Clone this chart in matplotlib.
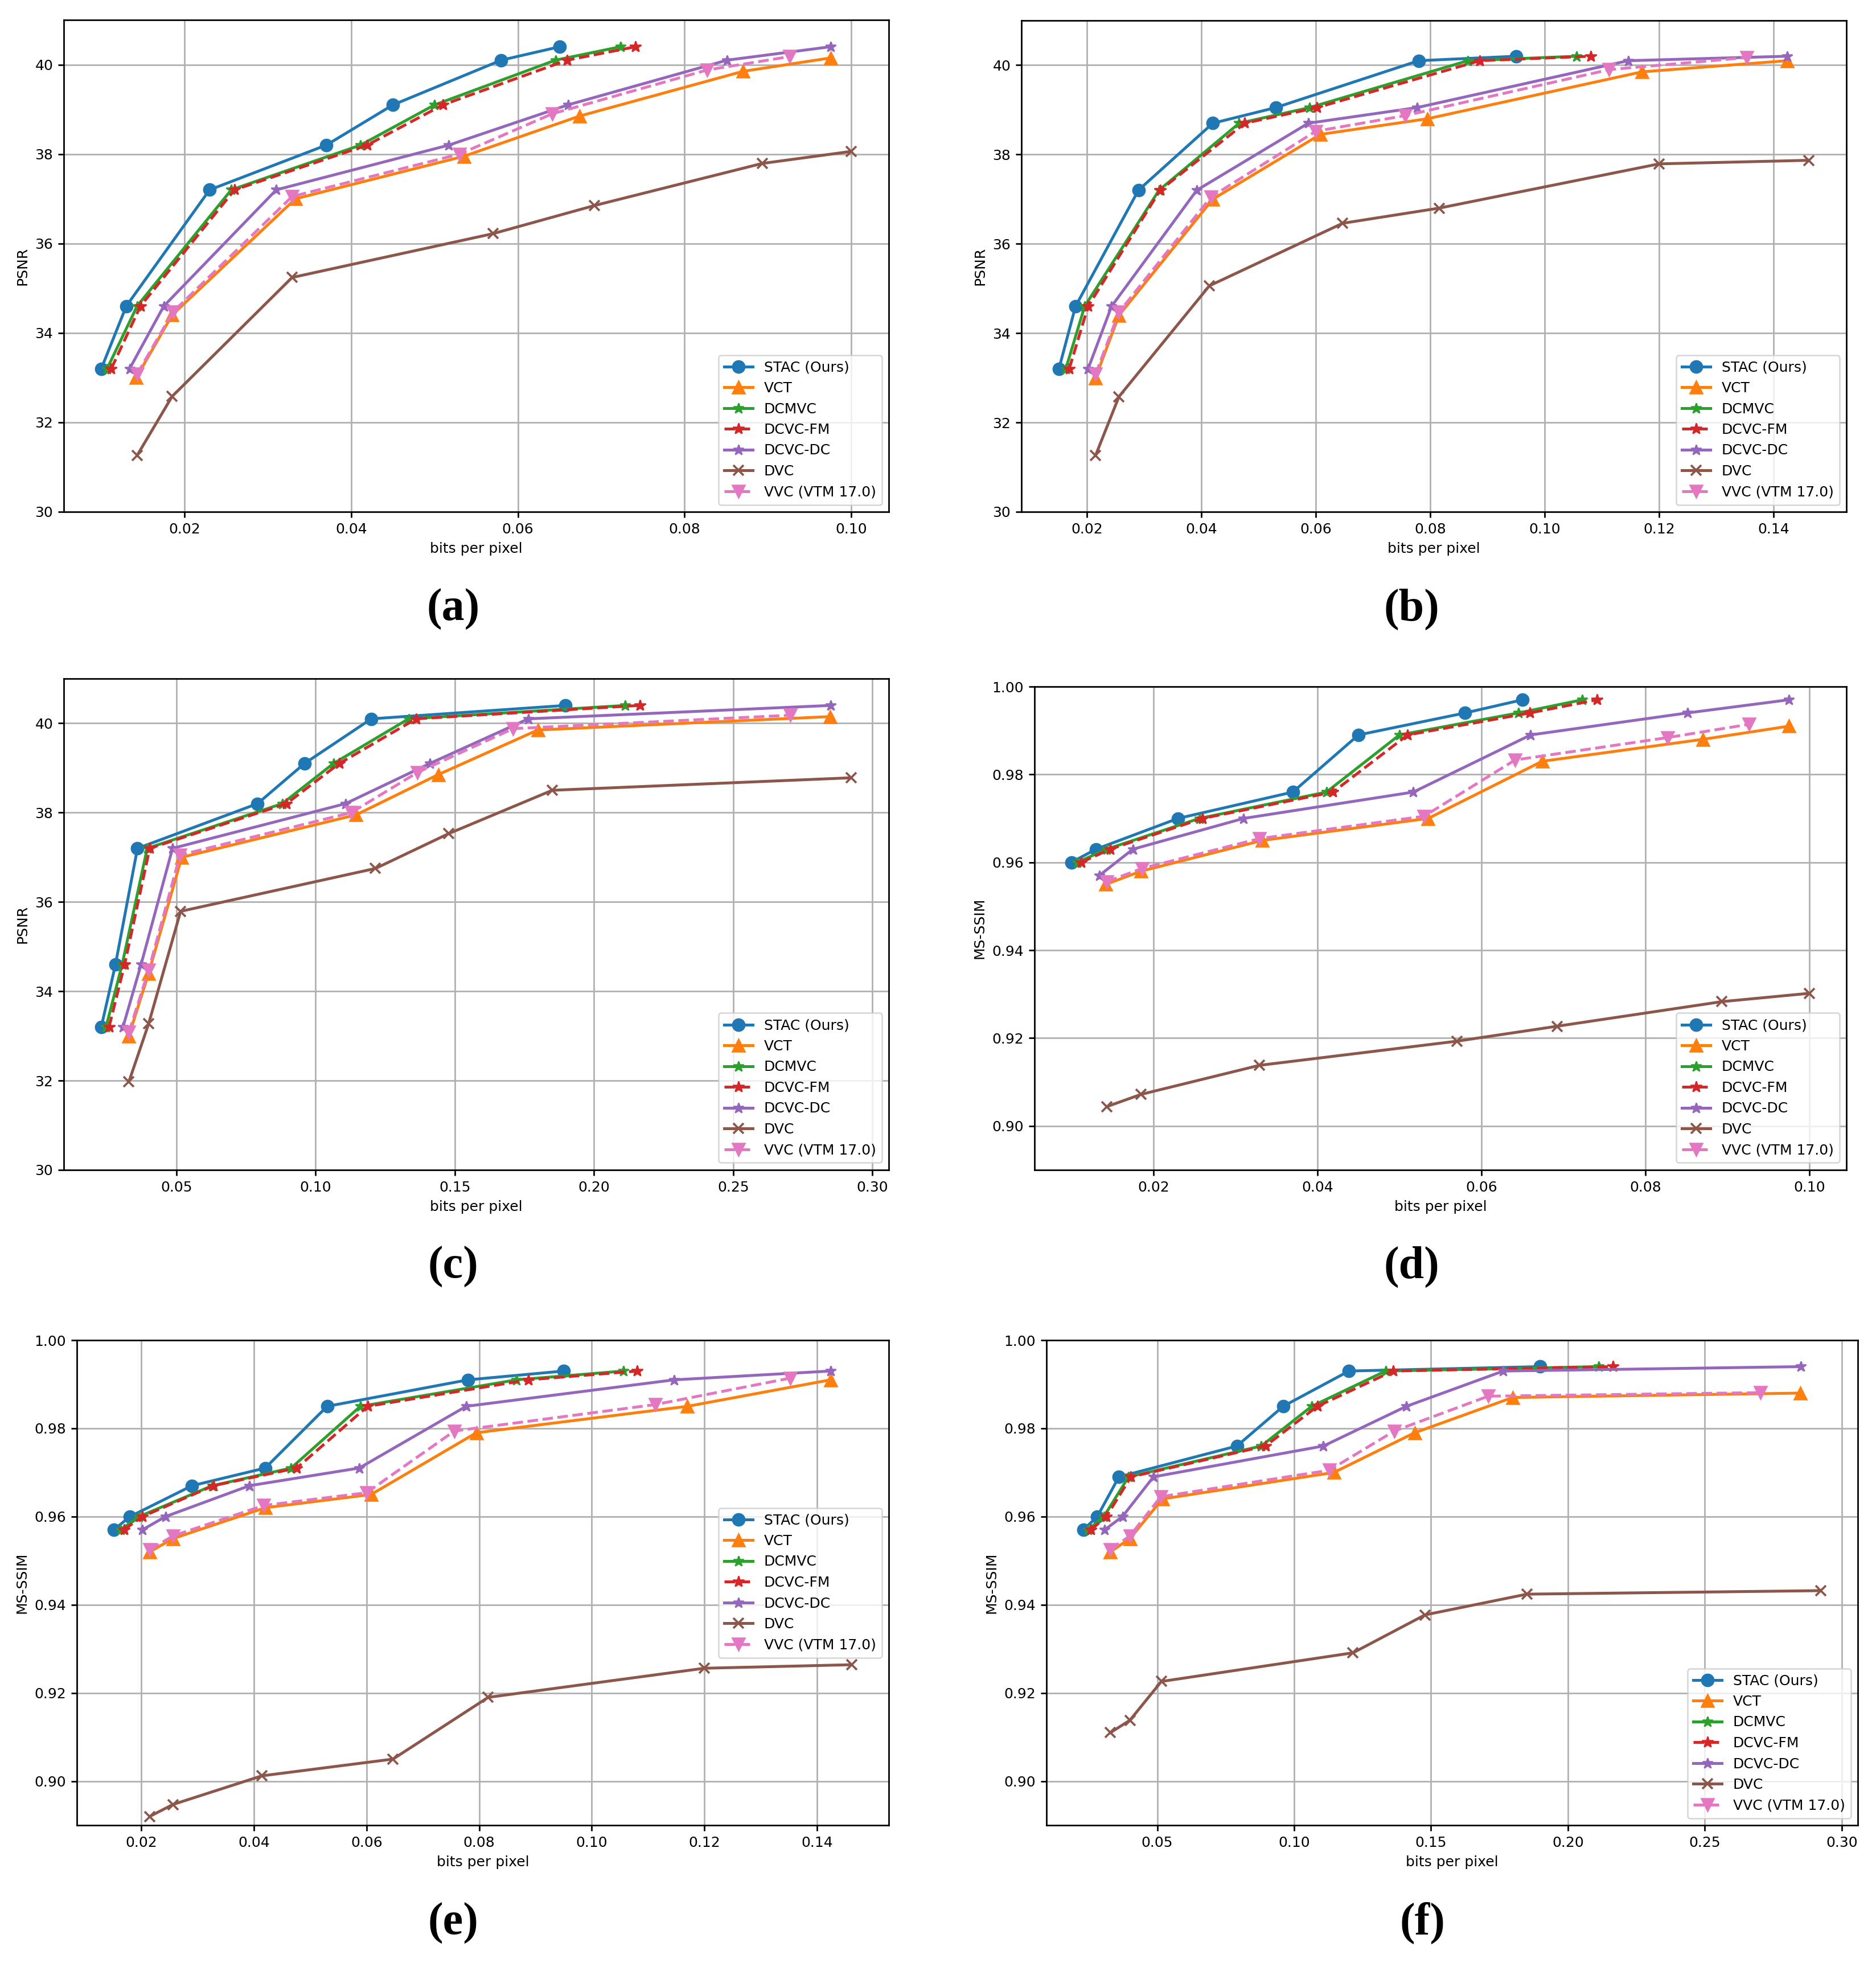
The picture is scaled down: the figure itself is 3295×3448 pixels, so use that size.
import matplotlib
matplotlib.use('Agg')
import matplotlib.pyplot as plt

# ---- data ------------------------------------------------------------------
methods = ["STAC (Ours)", "VCT", "DCMVC", "DCVC-FM", "DCVC-DC", "DVC", "VVC (VTM 17.0)"]

# bits per pixel, panels (a)/(d)
bpp_ad = {
    "STAC (Ours)":    [0.0100, 0.0130, 0.0230, 0.0370, 0.0450, 0.0580, 0.0650],
    "VCT":            [0.0142, 0.0185, 0.0333, 0.0535, 0.0674, 0.0870, 0.0975],
    "DCMVC":          [0.0107, 0.0143, 0.0256, 0.0411, 0.0500, 0.0645, 0.0723],
    "DCVC-FM":        [0.0112, 0.0147, 0.0260, 0.0419, 0.0510, 0.0659, 0.0741],
    "DCVC-DC":        [0.0134, 0.0175, 0.0310, 0.0517, 0.0660, 0.0851, 0.0975],
    "DVC":            [0.0143, 0.0185, 0.0329, 0.0570, 0.0692, 0.0893, 0.1000],
    "VVC (VTM 17.0)": [0.0143, 0.0186, 0.0329, 0.0530, 0.0641, 0.0827, 0.0926],
}
# bits per pixel, panels (b)/(e)
bpp_be = {
    "STAC (Ours)":    [0.0151, 0.0180, 0.0290, 0.0420, 0.0530, 0.0780, 0.0950],
    "VCT":            [0.0215, 0.0256, 0.0420, 0.0608, 0.0795, 0.1170, 0.1424],
    "DCMVC":          [0.0163, 0.0196, 0.0326, 0.0466, 0.0589, 0.0866, 0.1056],
    "DCVC-FM":        [0.0169, 0.0202, 0.0328, 0.0476, 0.0602, 0.0887, 0.1081],
    "DCVC-DC":        [0.0202, 0.0243, 0.0392, 0.0587, 0.0777, 0.1146, 0.1424],
    "DVC":            [0.0215, 0.0256, 0.0414, 0.0647, 0.0816, 0.1200, 0.1462],
    "VVC (VTM 17.0)": [0.0215, 0.0256, 0.0417, 0.0600, 0.0756, 0.1113, 0.1353],
}
# bits per pixel, panels (c)/(f)
bpp_cf = {
    "STAC (Ours)":    [0.0230, 0.0281, 0.0360, 0.0791, 0.0960, 0.1200, 0.1898],
    "VCT":            [0.0329, 0.0400, 0.0519, 0.1145, 0.1440, 0.1798, 0.2849],
    "DCMVC":          [0.0247, 0.0305, 0.0395, 0.0880, 0.1064, 0.1334, 0.2112],
    "DCVC-FM":        [0.0258, 0.0314, 0.0404, 0.0895, 0.1085, 0.1361, 0.2164],
    "DCVC-DC":        [0.0308, 0.0373, 0.0486, 0.1107, 0.1410, 0.1764, 0.2851],
    "DVC":            [0.0329, 0.0400, 0.0515, 0.1215, 0.1478, 0.1850, 0.2924],
    "VVC (VTM 17.0)": [0.0329, 0.0400, 0.0513, 0.1128, 0.1366, 0.1709, 0.2704],
}

psnr_a = {
    "STAC (Ours)":    [33.2, 34.6, 37.2, 38.2, 39.1, 40.1, 40.4],
    "VCT":            [33.0, 34.4, 37.0, 37.95, 38.85, 39.85, 40.15],
    "DCMVC":          [33.2, 34.6, 37.2, 38.2, 39.1, 40.1, 40.4],
    "DCVC-FM":        [33.2, 34.6, 37.2, 38.2, 39.1, 40.1, 40.4],
    "DCVC-DC":        [33.2, 34.6, 37.2, 38.2, 39.1, 40.1, 40.4],
    "DVC":            [31.26, 32.58, 35.24, 36.22, 36.85, 37.79, 38.06],
    "VVC (VTM 17.0)": [33.08, 34.47, 37.05, 38.0, 38.9, 39.88, 40.18],
}
psnr_b = {
    "STAC (Ours)":    [33.2, 34.6, 37.2, 38.7, 39.05, 40.1, 40.2],
    "VCT":            [33.0, 34.4, 37.0, 38.45, 38.8, 39.85, 40.1],
    "DCMVC":          [33.2, 34.6, 37.2, 38.7, 39.05, 40.1, 40.2],
    "DCVC-FM":        [33.2, 34.6, 37.2, 38.7, 39.05, 40.1, 40.2],
    "DCVC-DC":        [33.2, 34.6, 37.2, 38.7, 39.05, 40.1, 40.2],
    "DVC":            [31.26, 32.58, 35.06, 36.46, 36.8, 37.79, 37.87],
    "VVC (VTM 17.0)": [33.08, 34.47, 37.05, 38.52, 38.87, 39.9, 40.17],
}
psnr_c = {
    "STAC (Ours)":    [33.2, 34.6, 37.2, 38.2, 39.1, 40.1, 40.4],
    "VCT":            [33.0, 34.4, 37.0, 37.95, 38.85, 39.85, 40.15],
    "DCMVC":          [33.2, 34.6, 37.2, 38.2, 39.1, 40.1, 40.4],
    "DCVC-FM":        [33.2, 34.6, 37.2, 38.2, 39.1, 40.1, 40.4],
    "DCVC-DC":        [33.2, 34.6, 37.2, 38.2, 39.1, 40.1, 40.4],
    "DVC":            [31.97, 33.27, 35.79, 36.75, 37.53, 38.5, 38.78],
    "VVC (VTM 17.0)": [33.08, 34.47, 37.05, 38.0, 38.9, 39.88, 40.18],
}
msssim_d = {
    "STAC (Ours)":    [0.960, 0.963, 0.970, 0.976, 0.989, 0.994, 0.997],
    "VCT":            [0.955, 0.958, 0.965, 0.970, 0.983, 0.988, 0.991],
    "DCMVC":          [0.960, 0.963, 0.970, 0.976, 0.989, 0.994, 0.997],
    "DCVC-FM":        [0.960, 0.963, 0.970, 0.976, 0.989, 0.994, 0.997],
    "DCVC-DC":        [0.957, 0.963, 0.970, 0.976, 0.989, 0.994, 0.997],
    "DVC":            [0.9044, 0.9072, 0.9138, 0.9193, 0.9227, 0.9283, 0.9302],
    "VVC (VTM 17.0)": [0.9556, 0.9586, 0.9654, 0.9705, 0.9833, 0.9884, 0.9914],
}
msssim_e = {
    "STAC (Ours)":    [0.957, 0.960, 0.967, 0.971, 0.985, 0.991, 0.993],
    "VCT":            [0.952, 0.955, 0.962, 0.965, 0.979, 0.985, 0.991],
    "DCMVC":          [0.957, 0.960, 0.967, 0.971, 0.985, 0.991, 0.993],
    "DCVC-FM":        [0.957, 0.960, 0.967, 0.971, 0.985, 0.991, 0.993],
    "DCVC-DC":        [0.957, 0.960, 0.967, 0.971, 0.985, 0.991, 0.993],
    "DVC":            [0.892, 0.8947, 0.9012, 0.905, 0.919, 0.9256, 0.9264],
    "VVC (VTM 17.0)": [0.9525, 0.9556, 0.9625, 0.9654, 0.9794, 0.9854, 0.9914],
}
msssim_f = {
    "STAC (Ours)":    [0.957, 0.960, 0.969, 0.976, 0.985, 0.993, 0.994],
    "VCT":            [0.952, 0.955, 0.964, 0.970, 0.979, 0.987, 0.988],
    "DCMVC":          [0.957, 0.960, 0.969, 0.976, 0.985, 0.993, 0.994],
    "DCVC-FM":        [0.957, 0.960, 0.969, 0.976, 0.985, 0.993, 0.994],
    "DCVC-DC":        [0.957, 0.960, 0.969, 0.976, 0.985, 0.993, 0.994],
    "DVC":            [0.911, 0.9138, 0.9226, 0.9291, 0.9377, 0.9424, 0.9432],
    "VVC (VTM 17.0)": [0.9525, 0.9556, 0.9645, 0.9705, 0.9794, 0.9873, 0.9881],
}

# ---- styling -----------------------------------------------------------------
styles = {
    "STAC (Ours)":    dict(color="C0", marker="o", ls="-", ms=8.5),
    "VCT":            dict(color="C1", marker="^", ls="-", ms=8.5),
    "DCMVC":          dict(color="C2", marker="*", ls="-", ms=7.5),
    "DCVC-FM":        dict(color="C3", marker="*", ls="--", ms=8),
    "DCVC-DC":        dict(color="C4", marker="*", ls="-", ms=7.5),
    "DVC":            dict(color="C5", marker="x", ls="-", ms=7.5, mew=1.5),
    "VVC (VTM 17.0)": dict(color="C6", marker="v", ls="--", ms=8.5),
}

W, H, DPI = 3295, 3448, 180
plt.rcParams['axes.linewidth'] = 1.1
plt.rcParams['xtick.major.width'] = 1.1
plt.rcParams['ytick.major.width'] = 1.1
plt.rcParams['xtick.major.size'] = 4
plt.rcParams['ytick.major.size'] = 4

fig = plt.figure(figsize=(W / DPI, H / DPI), dpi=DPI)

# panel boxes in pixels: left, right, top, bottom
panels = [
    ("(a)", bpp_ad, psnr_a,   "PSNR",    (30, 41),    "lower right", (112, 1561, 35, 899),    (796, 1070)),
    ("(b)", bpp_be, psnr_b,   "PSNR",    (30, 41),    "lower right", (1794, 3243, 36, 899),   (2479, 1070)),
    ("(c)", bpp_cf, psnr_c,   "PSNR",    (30, 41),    "lower right", (112, 1561, 1192, 2055), (796, 2225)),
    ("(d)", bpp_ad, msssim_d, "MS-SSIM", (0.89, 1.0), "lower right", (1817, 3243, 1206, 2055), (2479, 2225)),
    ("(e)", bpp_be, msssim_e, "MS-SSIM", (0.89, 1.0), "center right", (135, 1561, 2354, 3206), (796, 3378)),
    ("(f)", bpp_cf, msssim_f, "MS-SSIM", (0.89, 1.0), "lower right", (1838, 3263, 2354, 3206), (2498, 3378)),
]

for tag, bpp, metric, ylabel, ylim, loc, box, labpos in panels:
    l, r, t, b = box
    ax = fig.add_axes([l / W, 1 - b / H, (r - l) / W, (b - t) / H])
    for m in methods:
        st = styles[m]
        ax.plot(bpp[m], metric[m], label=m, color=st["color"], marker=st["marker"],
                linestyle=st["ls"], markersize=st["ms"], markeredgewidth=st.get("mew", 1.0),
                linewidth=2.0)
    ax.set_ylim(*ylim)
    ax.set_xlabel("bits per pixel")
    ax.set_ylabel(ylabel)
    ax.grid(True, color="#b0b0b0", linewidth=1.1)
    ax.legend(loc=loc)
    fig.text(labpos[0] / W, 1 - labpos[1] / H, tag, ha="center", va="center",
             fontsize=32, fontweight="bold", family="Liberation Serif")

fig.savefig("out.png", dpi=DPI)
